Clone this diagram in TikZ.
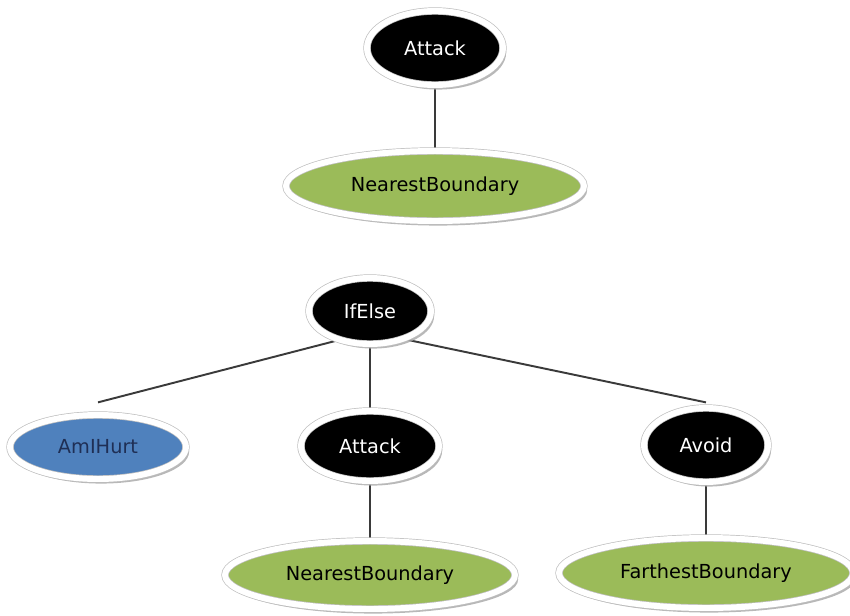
\documentclass[tikz,border=0pt]{standalone}
\usepackage{fontspec}
\setmainfont{DejaVu Sans}
\usetikzlibrary{shapes.geometric,shadows,backgrounds}
\definecolor{termgreen}{HTML}{9BBB59}
\definecolor{condblue}{HTML}{4F81BD}
\definecolor{condtext}{HTML}{1F2F55}
\definecolor{edgegray}{HTML}{3A3A3A}
\begin{document}
\begin{tikzpicture}[x=0.02cm, y=-0.02cm, every node/.style={font=\fontsize{11}{13}\selectfont},
    blob/.style={ellipse, inner sep=0pt, draw=gray!50, line width=0.4pt, double=white, double distance=3.4pt,
        drop shadow={shadow xshift=1.8pt, shadow yshift=-2.6pt, fill=gray!70, opacity=0.8}},
    cmd/.style={blob, fill=black, text=white},
    term/.style={blob, fill=termgreen, text=black},
    cond/.style={blob, fill=condblue, text=condtext},
    edge/.style={draw=edgegray, line width=1.1pt}]
    \useasboundingbox (0,0) rectangle (850,616);
    \node[cmd, minimum width=2.72cm, minimum height=1.48cm] (atk) at (435,48) {Attack};
    \node[term, minimum width=5.96cm, minimum height=1.4cm] (near) at (435,186) {NearestBoundary};
    \node[cmd, minimum width=2.44cm, minimum height=1.32cm] (ifelse) at (370,311) {IfElse};
    \node[cond, minimum width=3.52cm, minimum height=1.28cm] (hurt) at (98,447) {AmIHurt};
    \node[cmd, minimum width=2.76cm, minimum height=1.4cm] (atkb) at (370,446) {Attack};
    \node[cmd, minimum width=2.48cm, minimum height=1.48cm] (avoid) at (706,445) {Avoid};
    \node[term, minimum width=5.8cm, minimum height=1.36cm] (nearb) at (370,575) {NearestBoundary};
    \node[term, minimum width=5.88cm, minimum height=1.4cm] (far) at (706,573) {FarthestBoundary};
    \coordinate (fork) at (370,332);
    \begin{scope}[on background layer]
        \draw[edge] (atk) -- (near);
        \draw[edge] (fork) -- ([yshift=7pt]hurt.north);
        \draw[edge] (ifelse) -- (atkb);
        \draw[edge] (fork) -- ([yshift=3pt]avoid.north);
        \draw[edge] (atkb) -- (nearb);
        \draw[edge] (avoid) -- (far);
    \end{scope}
\end{tikzpicture}
\end{document}
